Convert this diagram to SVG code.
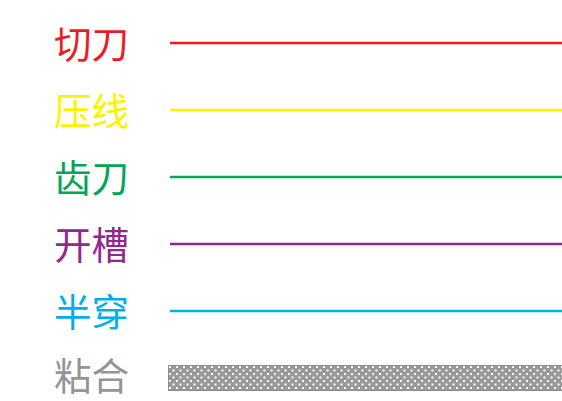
<svg xmlns="http://www.w3.org/2000/svg" width="562" height="401" viewBox="0 0 562 401">
<style>
.t{font-family:"Noto Sans CJK SC","Noto Sans",sans-serif;font-size:37.5px;font-weight:400;}
.l{stroke-width:2.5;fill:none;}
</style>
<defs>
<pattern id="dots" x="168" y="365" width="7" height="7" patternUnits="userSpaceOnUse">
<rect width="7" height="7" fill="#999999"/>
<rect x="1" y="1" width="2" height="2" fill="#ffffff"/>
<rect x="4.5" y="4.5" width="2" height="2" fill="#ffffff"/>
</pattern>
</defs>
<rect width="562" height="401" fill="#ffffff"/>
<g id="row-cut">
<text class="t" x="54" y="58" fill="#ED1C24">切刀</text>
</g>
<g id="row-crease">
<text class="t" x="54" y="125" fill="#FFF200">压线</text>
</g>
<g id="row-perf">
<text class="t" x="54" y="192" fill="#00A651">齿刀</text>
</g>
<g id="row-groove">
<text class="t" x="54" y="259" fill="#92278F">开槽</text>
</g>
<g id="row-half">
<text class="t" x="54" y="326" fill="#00AEEF">半穿</text>
</g>
<g id="row-glue">
<text class="t" x="54" y="390" fill="#939598">粘合</text>
<rect x="168.5" y="365.5" width="394" height="25" fill="url(#dots)" stroke="#8c8c8c" stroke-width="1"/>
</g>
<g id="connectors">
<line class="l" x1="170" y1="43" x2="562" y2="43" stroke="#ED1C24"/>
<line class="l" x1="170" y1="110" x2="562" y2="110" stroke="#FFF200"/>
<line class="l" x1="170" y1="177" x2="562" y2="177" stroke="#00A651"/>
<line class="l" x1="170" y1="244" x2="562" y2="244" stroke="#92278F"/>
<line class="l" x1="170" y1="311" x2="562" y2="311" stroke="#00AEEF"/>
</g>
</svg>
